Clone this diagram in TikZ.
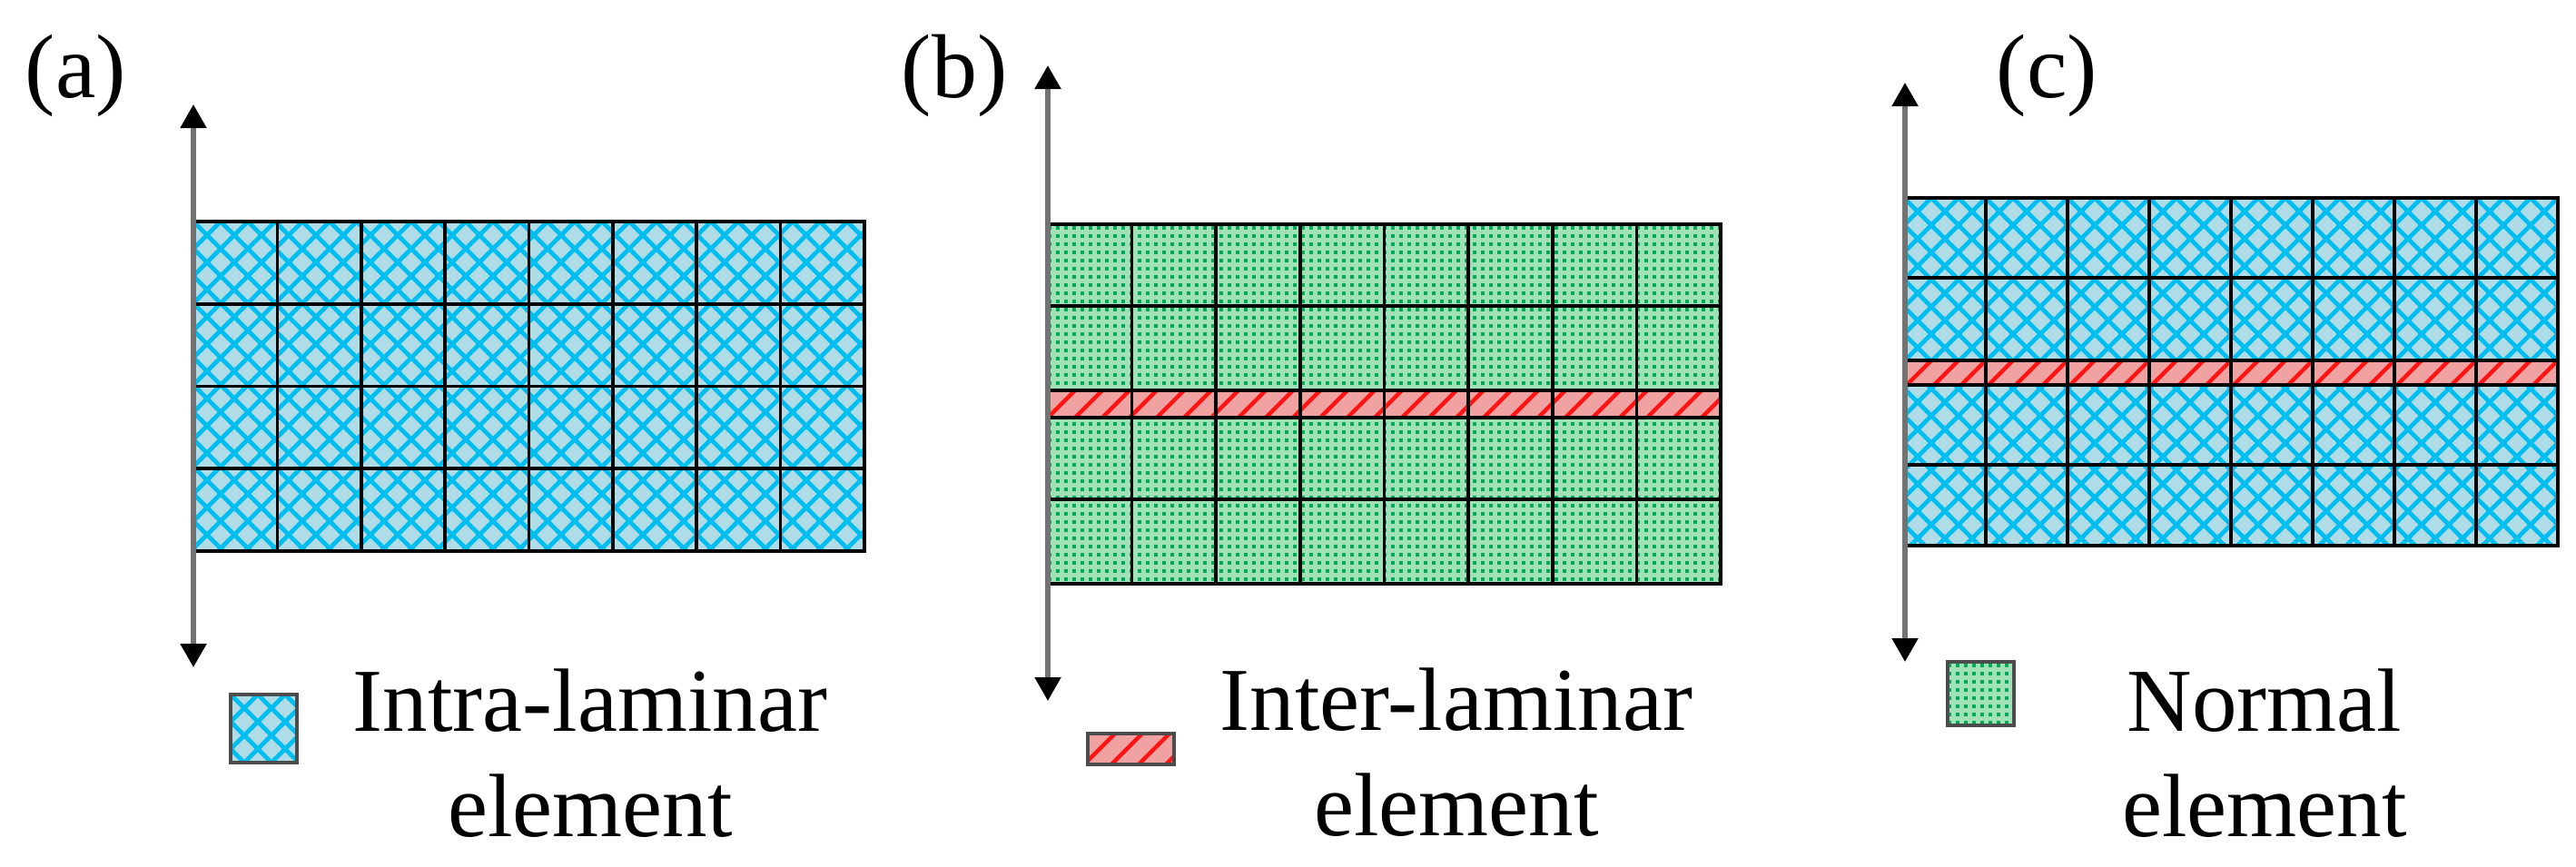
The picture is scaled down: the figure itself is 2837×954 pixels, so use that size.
\documentclass[tikz,border=0pt]{standalone}
\usepackage{fontspec}
\setmainfont{Liberation Serif}
\usetikzlibrary{arrows.meta}

\definecolor{intrafill}{RGB}{176,220,232}
\definecolor{intraline}{RGB}{0,190,240}
\definecolor{interfill}{RGB}{240,162,162}
\definecolor{interline}{RGB}{255,20,20}
\definecolor{normfill}{RGB}{160,226,182}
\definecolor{normdot}{RGB}{0,170,90}

\tikzset{
  gridline/.style={line width=0.9pt, draw=black},
  xhatch/.style={line width=1.2pt, draw=intraline},
  rhatch/.style={line width=1.1pt, draw=interline},
  gdots/.style={line width=1pt, draw=normdot, dash pattern=on 1pt off 1.25pt},
  axis/.style={line width=1.3pt, draw=black!55,
    {Triangle[width=7pt,length=6.5pt,color=black]}-{Triangle[width=7pt,length=6.5pt,color=black]}},
  tag/.style={font=\fontsize{25}{29}\selectfont, inner sep=0pt, anchor=base west},
  keytext/.style={font=\fontsize{24.75}{29}\selectfont, inner sep=0pt, align=center, anchor=base},
  keybox/.style={line width=1pt, draw=black!70},
}

% crosshatch, stripe and dot fills of a box: x1 y1 x2 y2
\newcommand{\xhatchbox}[4]{%
  \begin{scope}
    \clip (#1,#2) rectangle (#3,#4);
    \fill[intrafill] (#1,#2) rectangle (#3,#4);
    \foreach \k in {-420,-390,...,1200}
      \draw[xhatch] (#1+\k,#2) -- ++(450,450) (#1+\k,#2) -- ++(-450,450);
  \end{scope}}
\newcommand{\rhatchbox}[4]{%
  \begin{scope}
    \clip (#1,#2) rectangle (#3,#4);
    \fill[interfill] (#1,#2) rectangle (#3,#4);
    \foreach \k in {0,30,...,900}
      \draw[rhatch] (#1+\k,#2) -- ++(-60,60);
  \end{scope}}
\newcommand{\dotbox}[4]{%
  \begin{scope}
    \clip (#1,#2) rectangle (#3,#4);
    \fill[normfill] (#1,#2) rectangle (#3,#4);
    \foreach \j in {4,13,...,400}
      \draw[gdots] (#1,#2+\j) -- (#3,#2+\j);
  \end{scope}}

\begin{document}
\begin{tikzpicture}[x=0.25pt,y=-0.25pt]
  \useasboundingbox (0,0) rectangle (2837,954);

  % (a) intra-laminar mesh
  \xhatchbox{213}{244}{952}{607}
  \foreach \i in {1,...,7}
    \draw[gridline] (213+\i*92.375,244) -- (213+\i*92.375,607);
  \foreach \y in {334.75,425.5,516.25}
    \draw[gridline] (213,\y) -- (952,\y);
  \draw[gridline] (213,244) rectangle (952,607);
  \coordinate (atop) at (213,115);
  \coordinate (abot) at (213,735);
  \draw[axis] (atop) -- (abot);
  \node[tag] (taga) at (27,107) {(a)};
  \xhatchbox{254}{765}{327}{840}
  \draw[keybox] (254,765) rectangle (327,840);
  \node[keytext] (keya) at (650,921) {Intra-laminar\\element};

  % (b) normal mesh with one inter-laminar layer
  \dotbox{1154}{247}{1895}{643}
  \rhatchbox{1154}{430}{1895}{460}
  \foreach \i in {1,...,7}
    \draw[gridline] (1154+\i*92.625,247) -- (1154+\i*92.625,643);
  \foreach \y in {337,430,460,550}
    \draw[gridline] (1154,\y) -- (1895,\y);
  \draw[gridline] (1154,247) rectangle (1895,643);
  \coordinate (btop) at (1154,72);
  \coordinate (bbot) at (1154,772);
  \draw[axis] (btop) -- (bbot);
  \node[tag] (tagb) at (992,107) {(b)};
  \rhatchbox{1198}{808}{1293}{842}
  \draw[keybox] (1198,808) rectangle (1293,842);
  \node[keytext] (keyb) at (1604,920) {Inter-laminar\\element};

  % (c) intra-laminar mesh with one inter-laminar layer
  \xhatchbox{2097}{218}{2817}{601}
  \rhatchbox{2097}{397}{2817}{424}
  \foreach \i in {1,...,7}
    \draw[gridline] (2097+\i*90,218) -- (2097+\i*90,601);
  \foreach \y in {306,397,424,512}
    \draw[gridline] (2097,\y) -- (2817,\y);
  \draw[gridline] (2097,218) rectangle (2817,601);
  \coordinate (ctop) at (2098,91);
  \coordinate (cbot) at (2098,729);
  \draw[axis] (ctop) -- (cbot);
  \node[tag] (tagc) at (2198,107) {(c)};
  \dotbox{2145}{729}{2218}{799}
  \draw[keybox] (2145,729) rectangle (2218,799);
  \node[keytext] (keyc) at (2494,921) {Normal\\element};
\end{tikzpicture}
\end{document}
